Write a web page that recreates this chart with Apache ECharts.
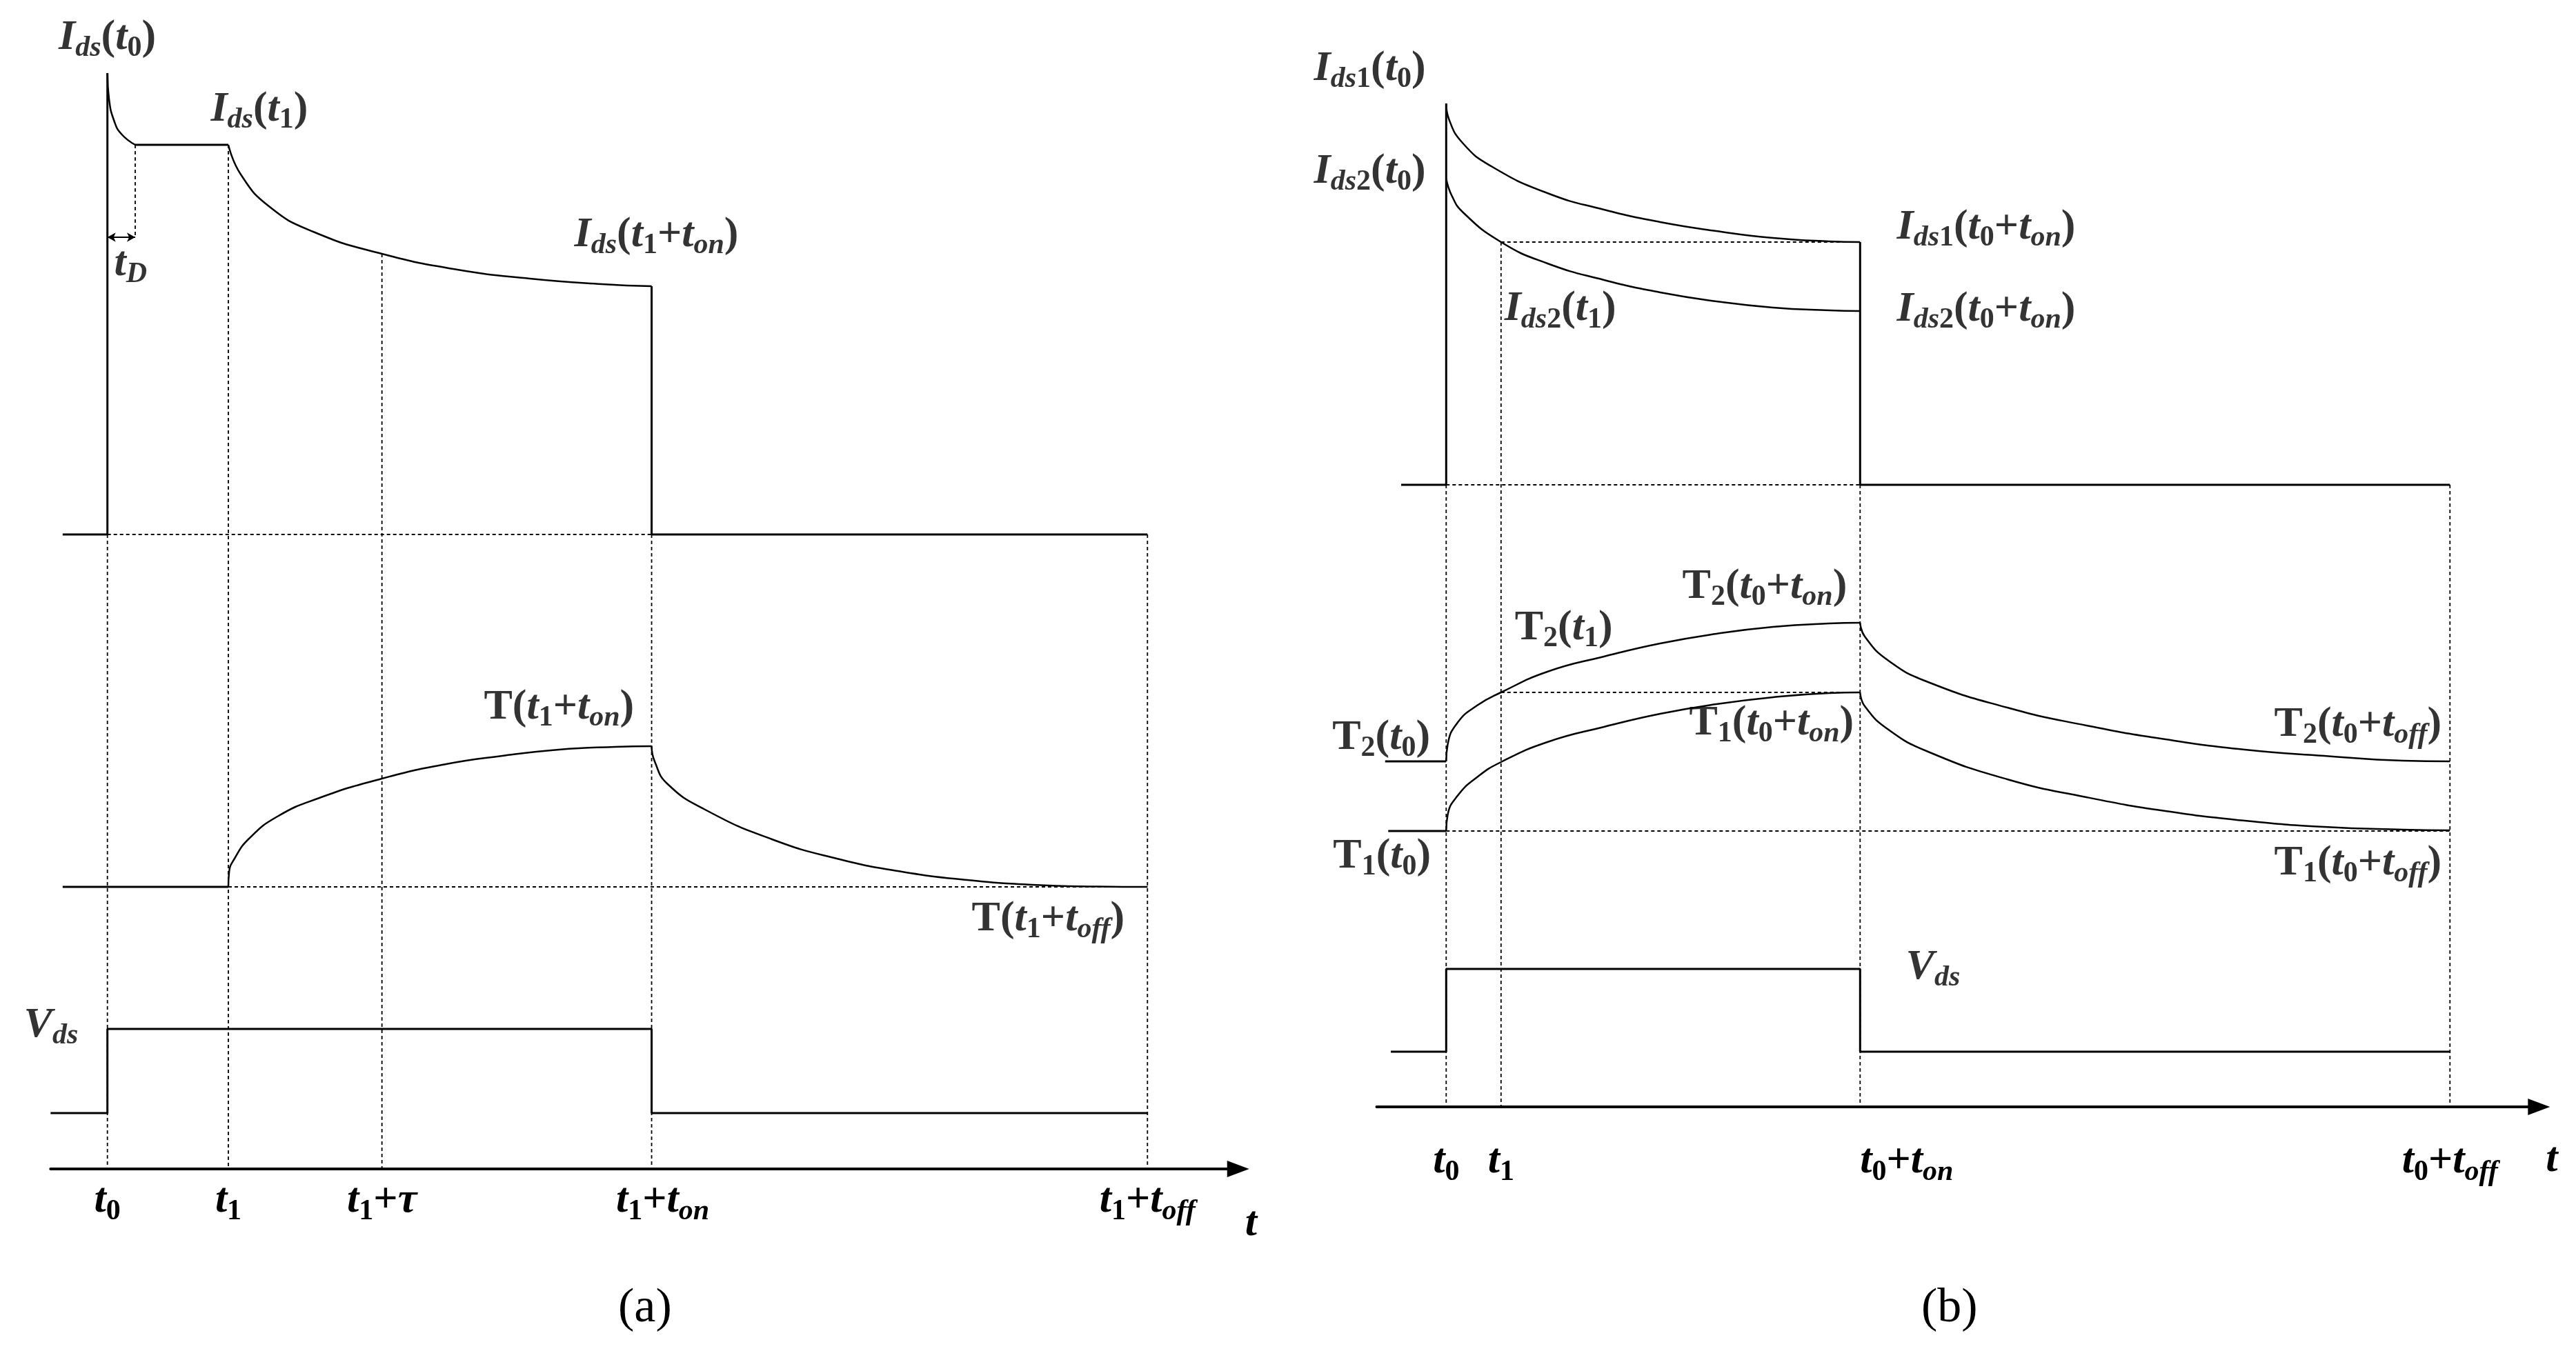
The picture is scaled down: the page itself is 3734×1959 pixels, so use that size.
<!DOCTYPE html>
<html>
<head>
<meta charset="utf-8">
<script src="https://cdn.jsdelivr.net/npm/echarts@6/dist/echarts.min.js"></script>
<style>
  html, body { margin: 0; background: #fff; }
  #chart { width: 3734px; height: 1959px; }
</style>
</head>
<body>
<div id="chart"></div>
<script>
// x = time (panel a: t1 - t0 = 1, panel b: t0 + ton = 4), y = level above the time axis

// ---- panel (a) ----
const aTicks = [0, 1, 2.27, 4.5, 8.6];
const aTickLabels = [
  '{m|t}{n|0}',
  '{m|t}{n|1}',
  '{m|t}{n|1}{r|+}{m|τ}',
  '{ga| }{m|t}{n|1}{r|+}{m|t}{s|on}',
  '{m|t}{n|1}{r|+}{m|t}{s|off}',
]
const aIdsDrop = [[0, 15.89], [0.013, 15.52], [0.059, 15.18], [0.119, 15.0], [0.23, 14.85]]
const aIdsDecay = [[1, 14.85], [1.103, 14.42], [1.342, 13.95], [1.702, 13.59], [2.27, 13.27], [2.894, 13.04], [3.493, 12.91], [4.087, 12.83], [4.5, 12.8]]
const aTempRise = [[1, 4.09], [1.006, 4.3], [1.051, 4.5], [1.171, 4.79], [1.405, 5.11], [1.753, 5.38], [2.27, 5.66], [2.8, 5.87], [3.265, 5.99], [3.733, 6.08], [4.195, 6.12], [4.5, 6.13]]
const aTempFall = [[4.5, 6.13], [4.525, 5.91], [4.633, 5.58], [4.953, 5.2], [5.495, 4.78], [6.031, 4.5], [6.57, 4.31], [7.11, 4.19], [7.646, 4.12], [8.188, 4.095], [8.6, 4.09]]
const aIdsOn = [[-0.37, 9.2], [0, 9.2], [0, 15.89]]
const aIdsPlateau = [[0.23, 14.85], [1, 14.85]]
const aIdsOff = [[4.5, 12.8], [4.5, 9.2], [8.6, 9.2]]
const aTempBase = [[-0.37, 4.09], [1, 4.09]]
const aVds = [[-0.47, 0.81], [0, 0.81], [0, 2.03], [4.5, 2.03], [4.5, 0.81], [8.6, 0.81]]
const aDotted = [[[0, 9.2], [4.5, 9.2]], [[1, 4.09], [8.6, 4.09]]]
const aDashed = [[[0, 9.2], [0, 0]], [[0.23, 14.85], [0.23, 13.51]], [[1, 14.85], [1, 0]], [[2.27, 13.27], [2.27, 0]], [[4.5, 9.2], [4.5, 0]], [[8.6, 9.2], [8.6, 0]]]
const aDelay = [[0, 13.51], [0.23, 13.51]]
const aNotes = [
  [-0.4, 16.71, '{m|I}{s|ds}{r|(}{m|t}{n|0}{r|)}'],
  [0.857, 15.67, '{m|I}{s|ds}{r|(}{m|t}{n|1}{r|)}'],
  [0.059, 13.43, '{m|t}{s|D}'],
  [3.864, 13.85, '{m|I}{s|ds}{r|(}{m|t}{n|1}{r|+}{m|t}{s|on}{r|)}'],
  [3.116, 7.0, '{r|T(}{m|t}{n|1}{r|+}{m|t}{s|on}{r|)}'],
  [7.15, 3.93, '{r|T(}{m|t}{n|1}{r|+}{m|t}{s|off}{r|)}'],
  [-0.688, 2.39, '{m|V}{s|ds}'],
]

// ---- panel (b) ----
const bTicks = [0, 0.53, 4, 9.7]
const bTickLabels = [
  '{m|t}{n|0}',
  '{m|t}{n|1}',
  '{gb| }{m|t}{n|0}{r|+}{m|t}{s|on}',
  '{m|t}{n|0}{r|+}{m|t}{s|off}',
]
const bIds1 = [[0, 14.55], [0.027, 14.32], [0.163, 13.97], [0.435, 13.64], [0.978, 13.25], [1.525, 13.01], [2.068, 12.83], [2.611, 12.7], [3.158, 12.6], [3.7, 12.55], [4, 12.54]]
const bIds2 = [[0, 13.46], [0.055, 13.21], [0.163, 12.97], [0.53, 12.54], [0.978, 12.23], [1.525, 11.99], [2.068, 11.81], [2.611, 11.68], [3.158, 11.59], [3.7, 11.55], [4, 11.54]]
const bT2Rise = [[0, 5.01], [0.014, 5.25], [0.109, 5.57], [0.298, 5.82], [0.53, 6.01], [0.978, 6.31], [1.525, 6.53], [2.068, 6.72], [2.611, 6.86], [3.158, 6.96], [3.7, 7.01], [4, 7.02]]
const bT2Fall = [[4, 7.02], [4.045, 6.82], [4.274, 6.47], [4.657, 6.16], [5.422, 5.79], [6.187, 5.53], [6.951, 5.33], [7.718, 5.18], [8.485, 5.09], [9.249, 5.02], [9.7, 5.01]]
const bT1Rise = [[0, 4.0], [0.014, 4.23], [0.109, 4.51], [0.298, 4.78], [0.53, 5.0], [0.978, 5.29], [1.525, 5.51], [2.068, 5.7], [2.611, 5.84], [3.158, 5.94], [3.7, 6.0], [4, 6.01]]
const bT1Fall = [[4, 6.01], [4.045, 5.81], [4.274, 5.47], [4.657, 5.15], [5.422, 4.75], [6.187, 4.49], [6.951, 4.29], [7.718, 4.15], [8.485, 4.06], [9.249, 4.02], [9.7, 4.01]]
const bIdsOn = [[-0.435, 9.02], [0, 9.02], [0, 14.55]]
const bIdsOff = [[4, 12.54], [4, 9.02], [9.7, 9.02]]
const bT2Base = [[-0.59, 5.01], [0, 5.01]]
const bT1Base = [[-0.56, 4.0], [0, 4.0]]
const bVds = [[-0.535, 0.8], [0, 0.8], [0, 2.0], [4, 2.0], [4, 0.8], [9.7, 0.8]]
const bDotted = [[[0, 9.02], [4, 9.02]], [[0.53, 12.54], [4, 12.54]], [[0.53, 6.01], [4, 6.01]], [[0, 4.0], [9.7, 4.0]]]
const bDashed = [[[0, 9.02], [0, 0]], [[0.53, 12.54], [0.53, 0]], [[4, 9.02], [4, 0]], [[9.7, 9.02], [9.7, 0]]]
const bNotes = [
  [-1.275, 15.36, '{m|I}{s|ds}{n|1}{r|(}{m|t}{n|0}{r|)}'],
  [-1.275, 13.87, '{m|I}{s|ds}{n|2}{r|(}{m|t}{n|0}{r|)}'],
  [4.358, 13.06, '{m|I}{s|ds}{n|1}{r|(}{m|t}{n|0}{r|+}{m|t}{s|on}{r|)}'],
  [4.358, 11.87, '{m|I}{s|ds}{n|2}{r|(}{m|t}{n|0}{r|+}{m|t}{s|on}{r|)}'],
  [0.566, 11.875, '{m|I}{s|ds}{n|2}{r|(}{m|t}{n|1}{r|)}'],
  [2.285, 7.85, '{r|T}{n|2}{r|(}{m|t}{n|0}{r|+}{m|t}{s|on}{r|)}'],
  [0.666, 7.25, '{r|T}{n|2}{r|(}{m|t}{n|1}{r|)}'],
  [-1.097, 5.66, '{r|T}{n|2}{r|(}{m|t}{n|0}{r|)}'],
  [2.351, 5.87, '{r|T}{n|1}{r|(}{m|t}{n|0}{r|+}{m|t}{s|on}{r|)}'],
  [8.005, 5.85, '{r|T}{n|2}{r|(}{m|t}{n|0}{r|+}{m|t}{s|off}{r|)}'],
  [-1.09, 3.94, '{r|T}{n|1}{r|(}{m|t}{n|0}{r|)}'],
  [8.005, 3.84, '{r|T}{n|1}{r|(}{m|t}{n|0}{r|+}{m|t}{s|off}{r|)}'],
  [4.445, 2.33, '{m|V}{s|ds}'],
]

const FONT = "'Liberation Serif', 'Times New Roman', serif"
const F = 62
const FS = 42
const INK = '#000'

const rich = {
  m: { fontFamily: FONT, fontSize: F, lineHeight: F, fontStyle: 'italic', fontWeight: 'bold', verticalAlign: 'top', color: INK },
  r: { fontFamily: FONT, fontSize: F, lineHeight: F, fontStyle: 'normal', fontWeight: 'bold', verticalAlign: 'top', color: INK },
  s: { fontFamily: FONT, fontSize: FS, lineHeight: FS, fontStyle: 'italic', fontWeight: 'bold', verticalAlign: 'top', padding: [26, 0, 0, 0], color: INK },
  n: { fontFamily: FONT, fontSize: FS, lineHeight: FS, fontStyle: 'normal', fontWeight: 'bold', verticalAlign: 'top', padding: [26, 0, 0, 0], color: INK },
  ga: { width: 32, fontSize: 10, lineHeight: 10, verticalAlign: 'top' },
  gb: { width: 135, fontSize: 10, lineHeight: 10, verticalAlign: 'top' },
}

// pixel layout of the two panels
const panelA = { t0: 155.7, unit: 175.3, axisY: 1695, min: -0.47, max: 9.35, top: 16.9 }
const panelB = { t0: 2096.3, unit: 150, axisY: 1605, min: -0.672, max: 10.56, top: 16 }

function gridOf(p) {
  return {
    left: p.t0 + p.min * p.unit,
    width: (p.max - p.min) * p.unit,
    top: p.axisY - p.top * 100,
    height: p.top * 100,
    containLabel: false,
    outerBoundsMode: 'none',
  }
}

function xAxisOf(idx, p, ticks, labels, margin, namePad) {
  return {
    gridIndex: idx,
    type: 'value',
    min: p.min,
    max: p.max,
    splitLine: { show: false },
    axisTick: { show: false },
    axisLine: {
      show: true,
      onZero: false,
      symbol: ['none', 'triangle'],
      symbolSize: [24, 32],
      lineStyle: { color: INK, width: 4 },
    },
    axisLabel: {
      show: true,
      customValues: ticks,
      margin: margin,
      formatter: (v) => labels[ticks.indexOf(v)],
      rich: rich,
    },
    name: 't',
    nameLocation: 'end',
    nameGap: 10,
    nameTextStyle: {
      fontFamily: FONT,
      fontSize: F,
      lineHeight: F,
      fontStyle: 'italic',
      fontWeight: 'bold',
      color: INK,
      align: 'left',
      verticalAlign: 'top',
      padding: [namePad, 0, 0, 0],
    },
  }
}

function yAxisOf(idx, p) {
  return { gridIndex: idx, type: 'value', min: 0, max: p.top, show: false }
}

function line(data, idx, width, dash, smooth) {
  return {
    type: 'line',
    xAxisIndex: idx,
    yAxisIndex: idx,
    data: data,
    symbol: 'none',
    silent: true,
    smooth: smooth ? 0.5 : false,
    lineStyle: { color: INK, width: width, type: dash ? [5, 4] : 'solid', cap: 'butt' },
    z: dash ? 1 : 3,
  }
}

function notes(list, idx) {
  return {
    type: 'scatter',
    xAxisIndex: idx,
    yAxisIndex: idx,
    symbolSize: 1,
    clip: false,
    silent: true,
    itemStyle: { color: 'rgba(0,0,0,0)' },
    label: {
      show: true,
      position: [0, 0],
      align: 'left',
      verticalAlign: 'top',
      formatter: (p) => p.name,
      rich: rich,
    },
    data: list.map((n) => ({ name: n[2], value: [n[0], n[1]] })),
    z: 5,
  }
}

const series = []
// panel (a)
aDashed.forEach((d) => series.push(line(d, 0, 1.8, true)))
aDotted.forEach((d) => series.push(line(d, 0, 1.8, true)))
;[aIdsOn, aIdsOff, aTempBase, aVds].forEach((d) => series.push(line(d, 0, 3)))
const plateau = line(aIdsPlateau, 0, 3)
plateau.markLine = {
  silent: true,
  animation: false,
  symbol: ['arrow', 'arrow'],
  symbolSize: [10, 12],
  label: { show: false },
  lineStyle: { color: INK, width: 2, type: 'solid' },
  data: [[{ coord: aDelay[0] }, { coord: aDelay[1] }]],
}
series.push(plateau)
;[aIdsDrop, aIdsDecay, aTempRise, aTempFall].forEach((d) => series.push(line(d, 0, 2.5, false, true)))
series.push(notes(aNotes, 0))
// panel (b)
bDashed.forEach((d) => series.push(line(d, 1, 1.8, true)))
bDotted.forEach((d) => series.push(line(d, 1, 1.8, true)))
;[bIdsOn, bIdsOff, bT2Base, bT1Base, bVds].forEach((d) => series.push(line(d, 1, 3)))
;[bIds1, bIds2, bT2Rise, bT2Fall, bT1Rise, bT1Fall].forEach((d) => series.push(line(d, 1, 2.5, false, true)))
series.push(notes(bNotes, 1))

const captionStyle = { fontFamily: FONT, fontSize: 70, fontWeight: 'normal', color: INK }

const option = {
  animation: false,
  backgroundColor: '#fff',
  title: [
    { text: '(a)', left: 891, top: 1858, textStyle: captionStyle },
    { text: '(b)', left: 2780, top: 1858, textStyle: captionStyle },
  ],
  grid: [gridOf(panelA), gridOf(panelB)],
  xAxis: [
    xAxisOf(0, panelA, aTicks, aTickLabels, 15, 49),
    xAxisOf(1, panelB, bTicks, bTickLabels, 48, 46),
  ],
  yAxis: [yAxisOf(0, panelA), yAxisOf(1, panelB)],
  series: series,
}

const chart = echarts.init(document.getElementById('chart'))
chart.setOption(option)
</script>
</body>
</html>
